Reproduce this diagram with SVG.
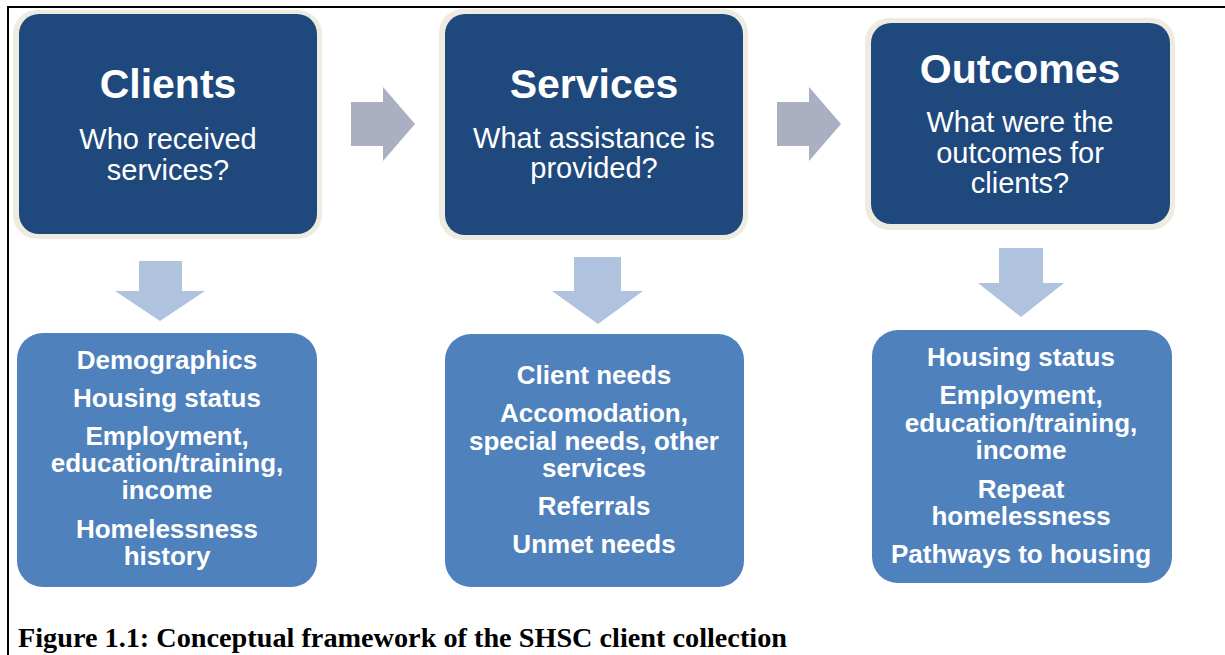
<svg xmlns="http://www.w3.org/2000/svg" width="1225" height="655" viewBox="0 0 1225 655">
<style>
.outer{fill:#EEECE1}
.inner{fill:#1F497D}
.low{fill:#4F81BD}
.title{font-family:"Liberation Sans",Arial,sans-serif;font-weight:bold;font-size:41px;fill:#fff;text-anchor:middle}
.sub{font-family:"Liberation Sans",Arial,sans-serif;font-size:29px;fill:#fff;text-anchor:middle}
.item{font-family:"Liberation Sans",Arial,sans-serif;font-weight:bold;font-size:26px;fill:#fff;text-anchor:middle}
.rarrow{fill:#AAB0C1}
.darrow{fill:#B0C3DE}
.cap{font-family:"Liberation Serif","Times New Roman",serif;font-weight:bold;font-size:27px;fill:#000}
</style>
<rect width="1225" height="655" fill="#fff"/>
<g id="frame">
<line x1="8" y1="7" x2="1225" y2="7" stroke="#000" stroke-width="2"/>
<line x1="8" y1="6" x2="8" y2="655" stroke="#000" stroke-width="2"/>
</g>
<g id="connectors">
<path class="rarrow" d="M351,102 H383 V87 L415,124 L383,161 V146 H351 Z"/>
<path class="rarrow" d="M777,102 H809 V87 L841,124 L809,161 V146 H777 Z"/>
<path class="darrow" d="M139,261 H182 V291 H205 L160,321 L115,291 H139 Z"/>
<path class="darrow" d="M574,257 H621 V291 H643 L598,324 L552,291 H574 Z"/>
<path class="darrow" d="M999,248 H1043 V283 H1064 L1021,317 L978,283 H999 Z"/>
</g>
<g id="clients">
<rect class="outer" x="13" y="10" width="309" height="229" rx="24"/>
<rect class="inner" x="19" y="14" width="298" height="220" rx="20"/>
<text class="title" x="168" y="98">Clients</text>
<text class="sub" x="168" y="149">Who received</text>
<text class="sub" x="168" y="180">services?</text>
</g>
<g id="services">
<rect class="outer" x="439" y="9" width="309" height="231" rx="24"/>
<rect class="inner" x="445" y="14" width="298" height="221" rx="20"/>
<text class="title" x="594" y="98">Services</text>
<text class="sub" x="594" y="148">What assistance is</text>
<text class="sub" x="594" y="178">provided?</text>
</g>
<g id="outcomes">
<rect class="outer" x="865" y="18" width="310" height="212" rx="24"/>
<rect class="inner" x="871" y="23" width="299" height="201" rx="20"/>
<text class="title" x="1020" y="83">Outcomes</text>
<text class="sub" x="1020" y="132">What were the</text>
<text class="sub" x="1020" y="163">outcomes for</text>
<text class="sub" x="1020" y="193">clients?</text>
</g>
<g id="clients-data">
<rect class="low" x="17" y="333" width="300" height="254" rx="26"/>
<text class="item" x="167" y="369">Demographics</text>
<text class="item" x="167" y="407">Housing status</text>
<text class="item" x="167" y="445">Employment,</text>
<text class="item" x="167" y="472">education/training,</text>
<text class="item" x="167" y="499">income</text>
<text class="item" x="167" y="538">Homelessness</text>
<text class="item" x="167" y="565">history</text>
</g>
<g id="services-data">
<rect class="low" x="445" y="334" width="299" height="253" rx="26"/>
<text class="item" x="594" y="384">Client needs</text>
<text class="item" x="594" y="422">Accomodation,</text>
<text class="item" x="594" y="450">special needs, other</text>
<text class="item" x="594" y="477">services</text>
<text class="item" x="594" y="515">Referrals</text>
<text class="item" x="594" y="553">Unmet needs</text>
</g>
<g id="outcomes-data">
<rect class="low" x="872" y="330" width="300" height="253" rx="26"/>
<text class="item" x="1021" y="366">Housing status</text>
<text class="item" x="1021" y="404">Employment,</text>
<text class="item" x="1021" y="432">education/training,</text>
<text class="item" x="1021" y="459">income</text>
<text class="item" x="1021" y="498">Repeat</text>
<text class="item" x="1021" y="525">homelessness</text>
<text class="item" x="1021" y="563">Pathways to housing</text>
</g>
<text class="cap" x="18" y="647" textLength="769" lengthAdjust="spacingAndGlyphs">Figure 1.1: Conceptual framework of the SHSC client collection</text>
</svg>
